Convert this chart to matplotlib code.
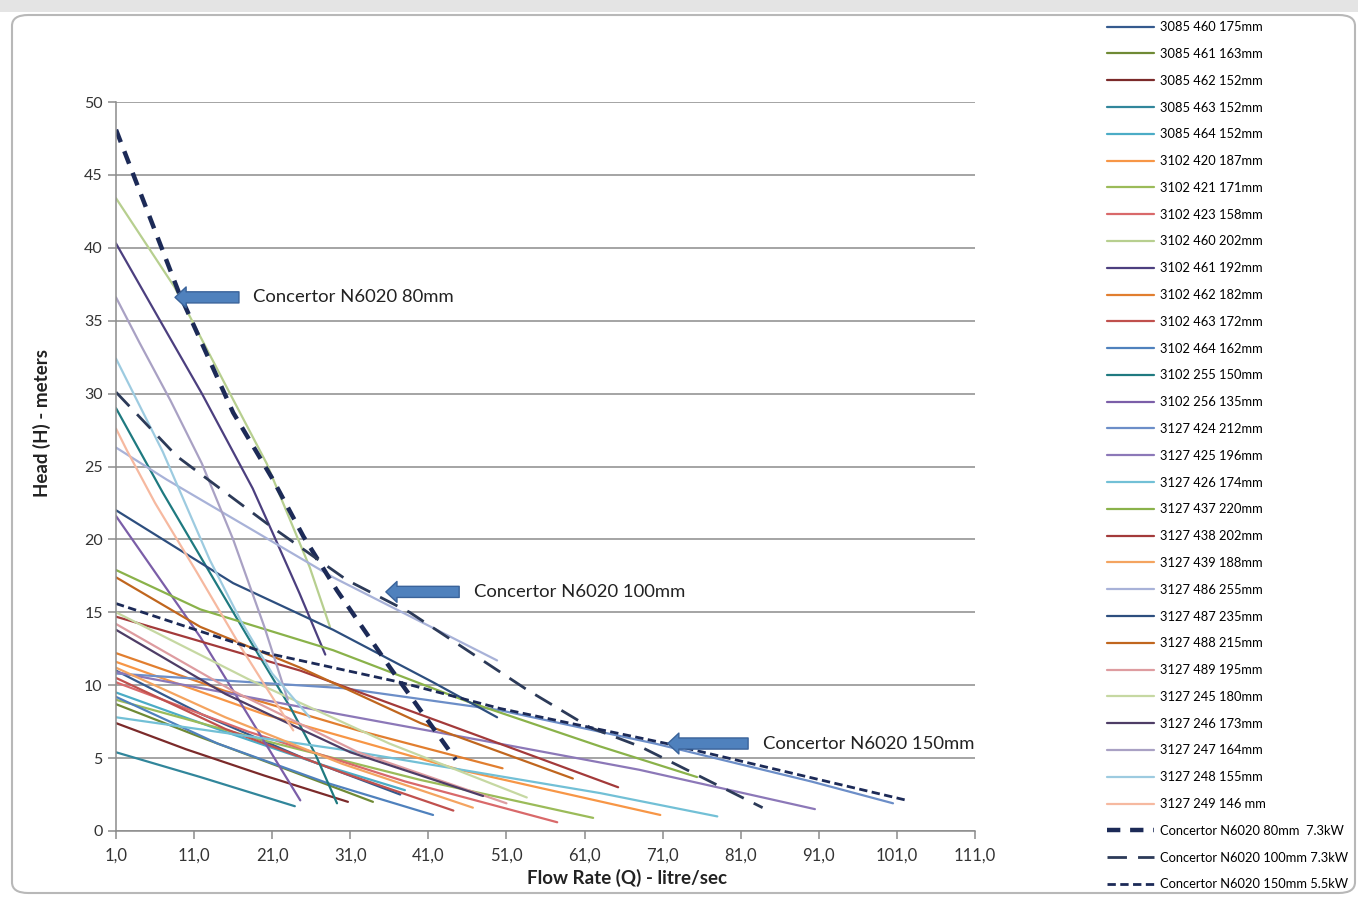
import numpy as np
import matplotlib.pyplot as plt
from matplotlib.patches import FancyArrowPatch, FancyBboxPatch, Rectangle

plt.rcParams['font.family'] = ['Lato', 'DejaVu Sans']

# %% Pump curves: flow Q (l/s) and head H (m)
Q_3085_460 = [1, 12, 25, 37.4]
H_3085_460 = [11.0, 8.0, 5.0, 2.5]
Q_3085_461 = [1, 12, 23, 33.9]
H_3085_461 = [8.7, 6.4, 4.2, 2.0]
Q_3085_462 = [1, 10, 20, 30.7]
H_3085_462 = [7.4, 5.6, 3.8, 2.0]
Q_3085_463 = [1, 11.8, 23.9]
H_3085_463 = [5.4, 3.7, 1.7]
Q_3085_464 = [1, 15, 27, 38]
H_3085_464 = [9.5, 6.8, 4.6, 2.8]
Q_3102_420 = [1, 20, 45, 70.7]
H_3102_420 = [11.6, 8.0, 4.2, 1.1]
Q_3102_421 = [1, 20, 40, 62.1]
H_3102_421 = [9.0, 6.2, 3.5, 0.9]
Q_3102_423 = [1, 18, 38, 57.5]
H_3102_423 = [10.2, 6.8, 3.4, 0.6]
Q_3102_460 = [1, 8.5, 15.6, 20.3, 25.8, 28.4]
H_3102_460 = [43.4, 37.3, 30.0, 25.2, 18.1, 14.0]
Q_3102_461 = [1, 7.5, 12, 16, 18.5, 21.1, 24.5, 27.8]
H_3102_461 = [40.3, 34.2, 30.0, 26.0, 23.5, 20.4, 16.3, 12.1]
Q_3102_462 = [1, 15, 32, 50.5]
H_3102_462 = [12.2, 9.6, 6.9, 4.3]
Q_3102_463 = [1, 15, 30, 44.2]
H_3102_463 = [10.5, 7.0, 4.0, 1.4]
Q_3102_464 = [1, 14, 28, 41.6]
H_3102_464 = [9.2, 6.0, 3.3, 1.1]
Q_3102_255 = [1, 7, 12.6, 18, 23.3, 26.5, 29.3]
H_3102_255 = [29.0, 23.2, 18.1, 13.2, 8.5, 5.3, 1.9]
Q_3102_256 = [1, 11.8, 24.6]
H_3102_256 = [21.6, 13.3, 2.1]
Q_3127_424 = [1, 30, 50, 70, 90, 100.5]
H_3127_424 = [10.8, 9.8, 8.3, 6.0, 3.4, 1.9]
Q_3127_425 = [1, 29.7, 50, 68, 90.5]
H_3127_425 = [10.9, 8.0, 6.0, 4.2, 1.5]
Q_3127_426 = [1, 29.7, 63, 78]
H_3127_426 = [7.8, 5.6, 2.6, 1.0]
Q_3127_437 = [1, 11.8, 28.8, 45.9, 63, 75.4]
H_3127_437 = [17.9, 15.2, 12.4, 8.9, 5.8, 3.7]
Q_3127_438 = [1, 24.6, 45, 65.3]
H_3127_438 = [14.7, 11.0, 7.0, 3.0]
Q_3127_439 = [1, 15, 30, 46.7]
H_3127_439 = [11.2, 7.8, 4.6, 1.6]
Q_3127_486 = [1, 7.5, 28.8, 49.8]
H_3127_486 = [26.3, 24.1, 17.4, 11.7]
Q_3127_487 = [1, 16, 28.8, 41.6, 49.8]
H_3127_487 = [22.0, 17.0, 13.8, 10.2, 7.8]
Q_3127_488 = [1, 11.8, 24.6, 40, 59.5]
H_3127_488 = [17.4, 14.0, 11.2, 7.4, 3.6]
Q_3127_489 = [1, 16, 32, 51]
H_3127_489 = [14.2, 9.6, 5.4, 1.9]
Q_3127_245 = [1, 18, 36, 53.6]
H_3127_245 = [15.0, 10.4, 6.0, 2.3]
Q_3127_246 = [1, 15, 31, 48]
H_3127_246 = [13.8, 9.4, 5.4, 2.4]
Q_3127_247 = [1, 4, 8, 12, 16, 20, 23]
H_3127_247 = [36.6, 33.5, 29.5, 25.2, 20.0, 14.0, 9.0]
Q_3127_248 = [1, 4, 7, 10, 13, 17, 21, 25.8]
H_3127_248 = [32.4, 29.2, 26.0, 22.3, 18.6, 14.4, 10.8, 7.8]
Q_3127_249 = [1, 2.4, 6, 11.4, 17, 23.7]
H_3127_249 = [27.6, 26.1, 22.5, 17.7, 12.6, 6.9]

Q_N6020_80 = [1, 9, 16, 21.1, 25, 29.3, 36.1, 44.5]
H_N6020_80 = [48.1, 37.0, 28.7, 24.1, 20.2, 16.5, 11.2, 4.9]
Q_N6020_100 = [1, 8.8, 20.3, 30.6, 38.6, 53.6, 61.7, 68.1, 83.8]
H_N6020_100 = [30.1, 25.7, 21.1, 17.2, 15.0, 9.7, 7.1, 5.8, 1.6]
Q_N6020_150 = [1, 20.3, 37.4, 50.2, 71.5, 102.3]
H_N6020_150 = [15.6, 12.2, 10.2, 8.4, 6.0, 2.1]

labels = ['3085 460 175mm', '3085 461 163mm', '3085 462 152mm', '3085 463 152mm',
          '3085 464 152mm', '3102 420 187mm', '3102 421 171mm', '3102 423 158mm',
          '3102 460 202mm', '3102 461 192mm', '3102 462 182mm', '3102 463 172mm',
          '3102 464 162mm', '3102 255 150mm', '3102 256 135mm', '3127 424 212mm',
          '3127 425 196mm', '3127 426 174mm', '3127 437 220mm', '3127 438 202mm',
          '3127 439 188mm', '3127 486 255mm', '3127 487 235mm', '3127 488 215mm',
          '3127 489 195mm', '3127 245 180mm', '3127 246 173mm', '3127 247 164mm',
          '3127 248 155mm', '3127 249 146 mm']
colors = ['#355a8e', '#6f8a35', '#7b2a2a', '#31869b', '#4bacc6', '#f79646',
          '#9bbb59', '#d9696a', '#b7cf8f', '#4c3f7f', '#e17e2f', '#c0504d',
          '#4f81bd', '#1f7a80', '#7b5ea8', '#6c8ec8', '#8c78b8', '#72c0d6',
          '#8ab24a', '#a33a3a', '#f4a460', '#a8b2d8', '#2d4e7e', '#c0661e',
          '#de9ca0', '#c6d8a2', '#4e3d66', '#a9a1c4', '#9dcbe0', '#f6b9a0']
q_all = [Q_3085_460, Q_3085_461, Q_3085_462, Q_3085_463, Q_3085_464, Q_3102_420,
         Q_3102_421, Q_3102_423, Q_3102_460, Q_3102_461, Q_3102_462, Q_3102_463,
         Q_3102_464, Q_3102_255, Q_3102_256, Q_3127_424, Q_3127_425, Q_3127_426,
         Q_3127_437, Q_3127_438, Q_3127_439, Q_3127_486, Q_3127_487, Q_3127_488,
         Q_3127_489, Q_3127_245, Q_3127_246, Q_3127_247, Q_3127_248, Q_3127_249]
h_all = [H_3085_460, H_3085_461, H_3085_462, H_3085_463, H_3085_464, H_3102_420,
         H_3102_421, H_3102_423, H_3102_460, H_3102_461, H_3102_462, H_3102_463,
         H_3102_464, H_3102_255, H_3102_256, H_3127_424, H_3127_425, H_3127_426,
         H_3127_437, H_3127_438, H_3127_439, H_3127_486, H_3127_487, H_3127_488,
         H_3127_489, H_3127_245, H_3127_246, H_3127_247, H_3127_248, H_3127_249]

x_ticks = [1, 11, 21, 31, 41, 51, 61, 71, 81, 91, 101, 111]
y_ticks = [0, 5, 10, 15, 20, 25, 30, 35, 40, 45, 50]

# %% Figure
fig = plt.figure(figsize=(13.58, 9.01), dpi=100)

# window frame around the chart
fig.patches.append(Rectangle((0, 1 - 12 / 901), 1, 12 / 901, transform=fig.transFigure,
                             facecolor='#e4e4e4', edgecolor='none', zorder=-2))
fig.patches.append(FancyBboxPatch((12 / 1358, 8 / 901), 1343 / 1358, 878 / 901,
                                  boxstyle='round,pad=0,rounding_size=0.012',
                                  transform=fig.transFigure, facecolor='white',
                                  edgecolor='#b8b8b8', lw=1.5, zorder=-1))

ax = fig.add_axes([116 / 1358, 1 - 831 / 901, 859 / 1358, 729 / 901])
ax.set_zorder(2)
ax.set_facecolor('none')

handles = []
for q, h, c, lab in zip(q_all, h_all, colors, labels):
    ln, = ax.plot(q, h, color=c, lw=1.6, label=lab, solid_capstyle='round',
                  solid_joinstyle='round')
    handles.append(ln)

ln80, = ax.plot(Q_N6020_80, H_N6020_80, color='#1c2a57', lw=3.2, dashes=(3, 2.2),
                label='Concertor N6020 80mm  7.3kW')
ln100, = ax.plot(Q_N6020_100, H_N6020_100, color='#2c3a58', lw=2.0, dashes=(7, 4),
                 label='Concertor N6020 100mm 7.3kW')
ln150, = ax.plot(Q_N6020_150, H_N6020_150, color='#1c2a57', lw=2.0, dashes=(3, 1.6),
                 label='Concertor N6020 150mm 5.5kW')
handles += [ln80, ln100, ln150]

ax.set_xlim(1, 111)
ax.set_ylim(0, 50)
ax.set_xticks(x_ticks)
ax.set_xticklabels(['%d,0' % v for v in x_ticks])
ax.set_yticks(y_ticks)
ax.grid(axis='y', color='#8c8c8c', lw=1.1)
ax.set_axisbelow(True)
for s in ['top', 'right']:
    ax.spines[s].set_visible(False)
for s in ['left', 'bottom']:
    ax.spines[s].set_color('#8c8c8c')
    ax.spines[s].set_linewidth(1.1)
ax.tick_params(axis='both', colors='#8c8c8c', length=6, width=1.1,
               labelsize=11.5, labelcolor='#333333')
ax.tick_params(axis='x', labelsize=12, pad=6)

fig.text(42 / 1358, 1 - 423 / 901, 'Head (H) - meters', rotation=90, ha='center',
         va='center', fontsize=13.5, fontweight='bold', color='#222222')
fig.text(627 / 1358, 1 - 878 / 901, 'Flow Rate (Q) - litre/sec', ha='center',
         va='center', fontsize=13.5, fontweight='bold', color='#222222')

# %% Arrow call-outs
callouts = [('Concertor N6020 80mm', 8.2, 17.1, 36.6),
            ('Concertor N6020 100mm', 35.2, 45.3, 16.4),
            ('Concertor N6020 150mm', 71.3, 82.3, 6.0)]
for txt, q_head, q_tail, hh in callouts:
    arr = FancyArrowPatch((q_tail, hh), (q_head, hh),
                          arrowstyle='simple,head_length=8,head_width=15,tail_width=8',
                          mutation_scale=1, facecolor='#4f81bd', edgecolor='#3a639a',
                          lw=1, zorder=5)
    ax.add_patch(arr)
    ax.text(q_tail + 1.5, hh, txt, ha='left', va='center', fontsize=13.3,
            color='#222222', zorder=6)

# %% Legend
fig.legend(handles=handles, loc='upper left', bbox_to_anchor=(1102 / 1358, 1 - 16 / 901),
           frameon=False, fontsize=9.3, handlelength=3.6, handletextpad=0.5,
           labelspacing=1.145, borderaxespad=0)

fig.savefig('out.png', dpi=100)
